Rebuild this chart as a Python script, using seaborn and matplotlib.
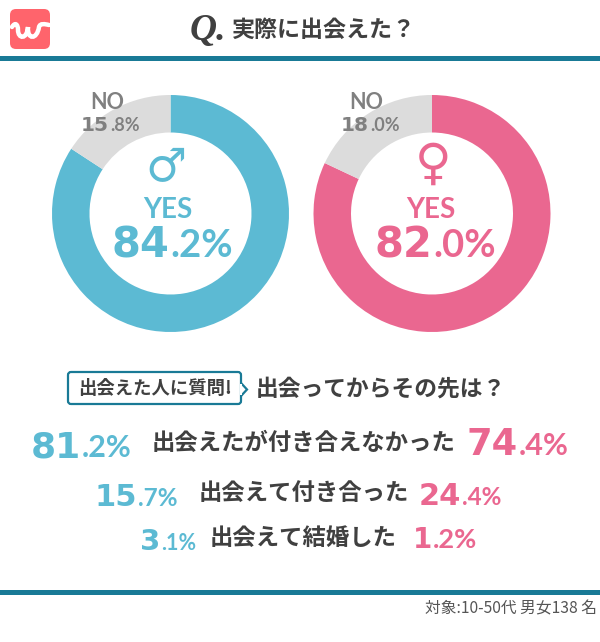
import matplotlib
matplotlib.use("Agg")
import matplotlib.pyplot as plt
import seaborn as sns
from matplotlib.patches import FancyBboxPatch, PathPatch, Polygon, Rectangle
from matplotlib.path import Path

# values
yes_no_labels = ["YES", "NO"]
male_share = [84.2, 15.8]
female_share = [82.0, 18.0]
outcome_labels = ["出会えたが付き合えなかった", "出会えて付き合った", "出会えて結婚した"]
male_outcome = [81.2, 15.7, 3.1]
female_outcome = [74.4, 24.4, 1.2]
title_text = "実際に出会えた？"
badge_text = "出会えた人に質問!"
sub_text = "出会ってからその先は？"
note_text = "対象:10-50代 男女138 名"

TEAL = "#197a96"
BLUE = "#5cbad3"
PINK = "#ea6790"
GREY = "#dcdcdc"
DARK = "#404040"
NOTXT = "#808080"

sns.set_theme(style="white")
plt.rcParams["font.family"] = ["Noto Sans CJK JP", "DejaVu Sans"]

W, H = 600, 642
fig = plt.figure(figsize=(W / 100, H / 100), dpi=100, facecolor="white")
ax = fig.add_axes([0, 0, 1, 1])
ax.set_xlim(0, W)
ax.set_ylim(H, 0)
ax.axis("off")
ax.set_zorder(5)  # texts sit over the donuts


def donut(cx, cy, r, share, color):
    a = fig.add_axes([(cx - r) / W, 1 - (cy + r) / H, 2 * r / W, 2 * r / H])
    a.pie(share, colors=sns.color_palette([color, GREY]), startangle=90, counterclock=False,
          radius=1, wedgeprops=dict(width=1 - 81 / r, linewidth=0))
    a.set_xlim(-1, 1)
    a.set_ylim(-1, 1)
    a.axis("off")


def pct(split, y, value, big, small, color):
    # whole part ends at split, the decimals start there
    whole, dec = f"{value:.1f}".split(".")
    ax.text(split, y, whole, ha="right", va="baseline", fontsize=big, color=color,
            family="DejaVu Sans", weight="bold")
    ax.text(split + 1, y, f".{dec}%", ha="left", va="baseline", fontsize=small, color=color,
            family="Lato", weight="bold")


# header and footer rules
ax.add_patch(Rectangle((0, 56), W, 5, color=TEAL, lw=0))
ax.add_patch(Rectangle((0, 590), W, 5, color=TEAL, lw=0))

# logo
ax.add_patch(FancyBboxPatch((14, 13), 32, 32, boxstyle="round,pad=4,rounding_size=6", fc="#ff646c", lw=0))
logo_path = Path(
    [(12, 27), (15, 22), (18, 24), (18, 30), (18, 39), (27, 40), (28, 27),
     (27, 40), (37, 40), (39, 27), (40, 23), (45, 24), (49, 25)],
    [Path.MOVETO] + [Path.CURVE4] * 12)
ax.add_patch(PathPatch(logo_path, fc="none", ec="white", lw=3.2, capstyle="round"))

# title
ax.text(208, 31, "Q.", ha="center", va="center", fontsize=27, color=DARK,
        family="Liberation Serif", style="italic", weight="bold")
ax.text(232, 30, title_text, ha="left", va="center", fontsize=16.6, color=DARK, weight="bold")

# donuts
donut(170.5, 213.5, 118.5, male_share, BLUE)
donut(432, 213.5, 118.5, female_share, PINK)

ax.text(166, 169, "♂", ha="center", va="center", fontsize=33, color=BLUE, family="DejaVu Sans", weight="bold")
ax.text(433, 165, "♀", ha="center", va="center", fontsize=36, color=PINK, family="DejaVu Sans", weight="bold")
ax.text(168, 218, yes_no_labels[0], ha="center", va="baseline", fontsize=20, color=BLUE, family="Lato", weight="bold")
ax.text(431, 218, yes_no_labels[0], ha="center", va="baseline", fontsize=20, color=PINK, family="Lato", weight="bold")
pct(169, 257, male_share[0], 30, 27.5, BLUE)
pct(432, 257, female_share[0], 30, 27.5, PINK)

ax.text(107, 109, yes_no_labels[1], ha="center", va="baseline", fontsize=15.5, color=NOTXT, family="Lato", weight="bold")
ax.text(366.5, 109, yes_no_labels[1], ha="center", va="baseline", fontsize=15.5, color=NOTXT, family="Lato", weight="bold")
pct(109, 131, male_share[1], 14.5, 13, NOTXT)
pct(369, 131, female_share[1], 14.5, 13, NOTXT)

# badge with the little arrow on its right side
ax.add_patch(FancyBboxPatch((70, 374), 169, 28, boxstyle="round,pad=2,rounding_size=3",
                            fc="white", ec=TEAL, lw=1.6))
ax.add_patch(Polygon([[241, 383], [247, 389.5], [241, 396]], closed=False, fc="white", ec=TEAL, lw=1.6))
ax.add_patch(Rectangle((239.5, 384), 2.4, 11, fc="white", lw=0))
ax.text(155, 388, badge_text, ha="center", va="center", fontsize=13.2, color=DARK, weight="bold")
ax.text(256, 389, sub_text, ha="left", va="center", fontsize=16.4, color=DARK, weight="bold")

# outcome rows
row_y = [443, 493, 538]
male_split = [81, 137, 160]
female_split = [518, 461, 432]
male_base = [457, 506, 550]
female_base = [455, 505, 548]
big_left = [26, 22, 21]
big_right = [26.5, 22, 20]
small_left = [22, 17.5, 15.5]
small_right = [22, 17.5, 19.5]
for i, label in enumerate(outcome_labels):
    ax.text(303.5, row_y[i], label, ha="center", va="center", fontsize=16.8, color=DARK, weight="bold")
    pct(male_split[i], male_base[i], male_outcome[i], big_left[i], small_left[i], BLUE)
    pct(female_split[i], female_base[i], female_outcome[i], big_right[i], small_right[i], PINK)

ax.text(597, 609, note_text, ha="right", va="center", fontsize=11.3, color="#555555")

fig.savefig("out.png", dpi=100, facecolor="white")
